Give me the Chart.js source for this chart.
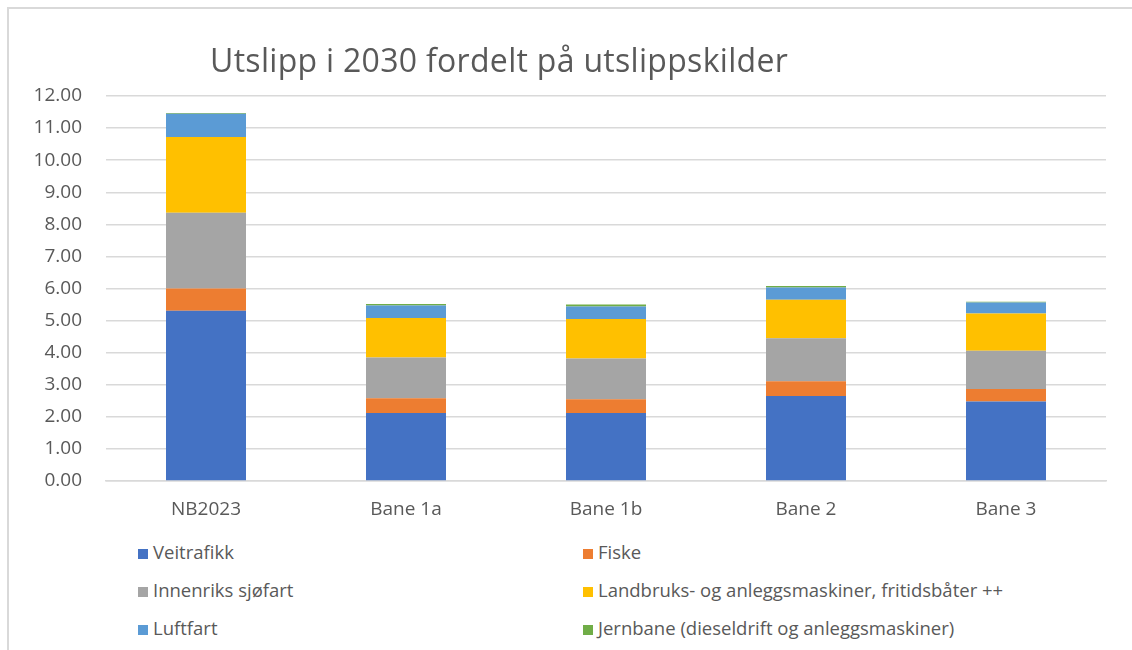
<!DOCTYPE html>
<html>
<head>
<meta charset="utf-8">
<script src="https://cdn.jsdelivr.net/npm/chart.js@4"></script>
<style>
  html, body { margin: 0; padding: 0; background: #fff; }
  #wrap { position: relative; width: 1132px; height: 650px; overflow: hidden; font-family: "Open Sans", sans-serif; }
  #frame { position: absolute; left: 7px; top: 7px; right: -10px; bottom: -10px; border-top: 2px solid #d9d9d9; border-left: 2px solid #d9d9d9; }
  #plot { position: absolute; left: 0; top: 0; width: 1132px; height: 530px; }
  #title { position: absolute; left: 210px; top: 38px; font-size: 32px; letter-spacing: 0.3px; color: #595959; white-space: nowrap; }
  .leg { position: absolute; font-size: 18.5px; color: #595959; white-space: nowrap; line-height: 20px; }
  .leg span { display: inline-block; width: 10px; height: 10px; margin-right: 5px; vertical-align: 0px; }
</style>
</head>
<body>
<div id="wrap">
  <div id="frame"></div>
  <div id="plot"><canvas id="chart"></canvas></div>
  <div id="title">Utslipp i 2030 fordelt på utslippskilder</div>
  <div id="legend"></div>
</div>
<script>
// categories and series (Mt CO2-ekv.)
const categories = ['NB2023', 'Bane 1a', 'Bane 1b', 'Bane 2', 'Bane 3'];
const veitrafikk = [5.31, 2.12, 2.12, 2.65, 2.48];
const fiske = [0.69, 0.46, 0.43, 0.46, 0.39];
const innenriksSjofart = [2.36, 1.27, 1.27, 1.34, 1.19];
const landbruk = [2.36, 1.23, 1.23, 1.20, 1.16];
const luftfart = [0.73, 0.39, 0.39, 0.38, 0.34];
const jernbane = [0.02, 0.05, 0.06, 0.05, 0.03];

const seriesNames = ['Veitrafikk', 'Fiske', 'Innenriks sjøfart',
  'Landbruks- og anleggsmaskiner, fritidsbåter ++', 'Luftfart',
  'Jernbane (dieseldrift og anleggsmaskiner)'];
const seriesData = [veitrafikk, fiske, innenriksSjofart, landbruk, luftfart, jernbane];
const seriesColors = ['#4472c4', '#ed7d31', '#a5a5a5', '#ffc000', '#5b9bd5', '#70ad47'];

const datasets = seriesNames.map(function(name, i) {
  return {
    label: name,
    data: seriesData[i],
    backgroundColor: seriesColors[i],
    borderWidth: 0,
    barPercentage: 0.4,
    categoryPercentage: 1
  };
});

const ctx = document.getElementById('chart').getContext('2d');
const chart = new Chart(ctx, {
  type: 'bar',
  data: { labels: categories, datasets: datasets },
  options: {
    responsive: true,
    maintainAspectRatio: false,
    animation: false,
    layout: { padding: { top: 96, left: 0, right: 26, bottom: 0 } },
    plugins: {
      legend: { display: false },
      tooltip: { enabled: false }
    },
    scales: {
      x: {
        stacked: true,
        grid: { display: false },
        border: { display: true, color: '#d9d9d9', width: 1.5 },
        ticks: { color: '#595959', font: { family: 'Open Sans', size: 19 }, padding: 9 },
        afterFit: function(scale) { scale.height = 49; }
      },
      y: {
        stacked: true,
        min: 0,
        max: 12,
        ticks: {
          stepSize: 1,
          color: '#595959',
          font: { family: 'Open Sans', size: 19 },
          padding: 24,
          callback: function(v) { return v.toFixed(2); }
        },
        grid: { color: '#d9d9d9', lineWidth: 1.5, drawTicks: false },
        border: { display: false },
        afterFit: function(scale) { scale.width = 106; }
      }
    }
  }
});

// legend in two columns, like the original
const legend = document.getElementById('legend');
const colX = [138, 583];
const rowY = [542, 580, 618];
datasets.forEach(function(ds, i) {
  const item = document.createElement('div');
  item.className = 'leg';
  item.style.left = colX[i % 2] + 'px';
  item.style.top = rowY[Math.floor(i / 2)] + 'px';
  item.innerHTML = '<span style="background:' + ds.backgroundColor + '"></span>' + ds.label;
  legend.appendChild(item);
});
</script>
</body>
</html>
